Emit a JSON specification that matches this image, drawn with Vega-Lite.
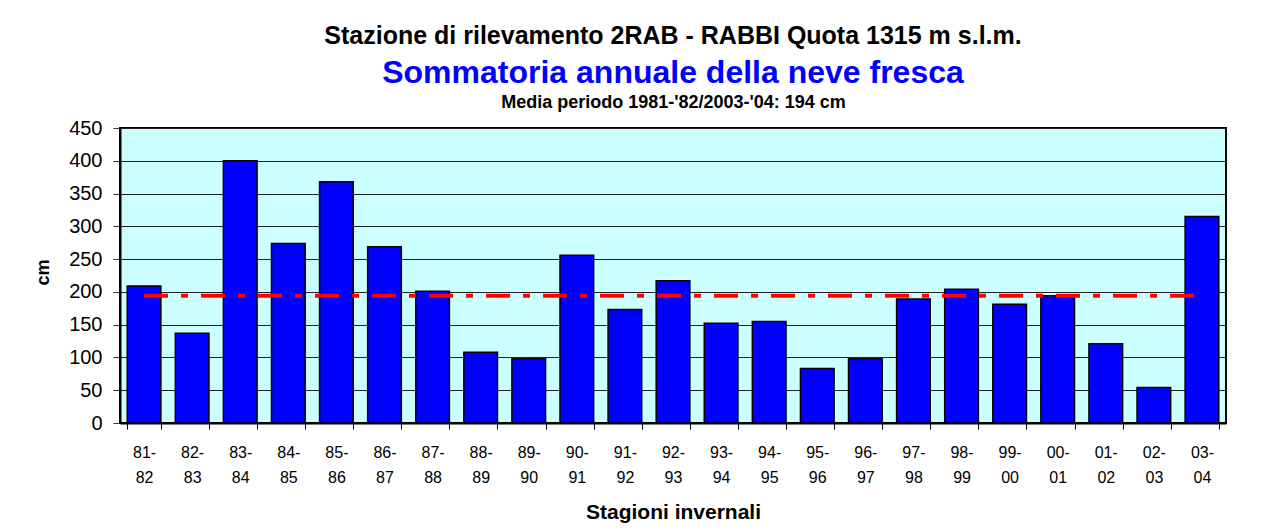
{
  "$schema": "https://vega.github.io/schema/vega-lite/v6.json",
  "width": 1106,
  "height": 295,
  "autosize": {"type": "none"},
  "padding": {"left": 120, "top": 128, "right": 41, "bottom": 107},
  "background": "white",
  "title": {
    "text": "Stazione di rilevamento 2RAB - RABBI  Quota 1315 m s.l.m.",
    "subtitle": "Sommatoria annuale della neve fresca",
    "anchor": "middle",
    "frame": "group",
    "font": "Liberation Sans",
    "fontSize": 25,
    "fontWeight": "bold",
    "color": "black",
    "subtitleFont": "Liberation Sans",
    "subtitleFontSize": 32,
    "subtitleFontWeight": "bold",
    "subtitleColor": "#0000FF",
    "subtitlePadding": 9,
    "offset": 4
  },
  "data": {
    "values": [
      {"season": "81-82", "cm": 209},
      {"season": "82-83", "cm": 137},
      {"season": "83-84", "cm": 400},
      {"season": "84-85", "cm": 274},
      {"season": "85-86", "cm": 368},
      {"season": "86-87", "cm": 269},
      {"season": "87-88", "cm": 201},
      {"season": "88-89", "cm": 108},
      {"season": "89-90", "cm": 98},
      {"season": "90-91", "cm": 256},
      {"season": "91-92", "cm": 173},
      {"season": "92-93", "cm": 217},
      {"season": "93-94", "cm": 152},
      {"season": "94-95", "cm": 155},
      {"season": "95-96", "cm": 83},
      {"season": "96-97", "cm": 98},
      {"season": "97-98", "cm": 189},
      {"season": "98-99", "cm": 204},
      {"season": "99-00", "cm": 181},
      {"season": "00-01", "cm": 194},
      {"season": "01-02", "cm": 121},
      {"season": "02-03", "cm": 54},
      {"season": "03-04", "cm": 315}
    ]
  },
  "layer": [
    {
      "mark": {"type": "bar", "color": "#0000FF", "stroke": "black", "strokeWidth": 1.5},
      "encoding": {
        "x": {
          "field": "season",
          "type": "nominal",
          "sort": null,
          "scale": {
            "domain": ["81-82","82-83","83-84","84-85","85-86","86-87","87-88","88-89","89-90","90-91","91-92","92-93","93-94","94-95","95-96","96-97","97-98","98-99","99-00","00-01","01-02","02-03","03-04"],
            "paddingInner": 0.3,
            "paddingOuter": 0.15
          },
          "axis": {
            "orient": "bottom",
            "title": "Stagioni invernali",
            "titleFont": "Liberation Sans",
            "titleFontSize": 21,
            "titleFontWeight": "bold",
            "titleColor": "black",
            "titlePadding": 16,
            "labelAngle": 0,
            "labelExpr": "[slice(datum.label,0,3), slice(datum.label,3)]",
            "labelFont": "Liberation Sans",
            "labelFontSize": 16,
            "labelColor": "black",
            "labelLineHeight": 25,
            "labelPadding": 15,
            "tickBand": "extent",
            "tickSize": 6,
            "tickColor": "black",
            "tickWidth": 1,
            "domainColor": "black",
            "domainWidth": 2,
            "grid": false
          }
        },
        "y": {
          "field": "cm",
          "type": "quantitative",
          "title": "cm",
          "scale": {"domain": [0, 450], "nice": false},
          "axis": {"values": [0, 50, 100, 150, 200, 250, 300, 350, 400, 450]}
        }
      }
    },
    {
      "data": {"values": [{"media": 194, "from": "81-82", "to": "03-04"}]},
      "mark": {"type": "rule", "color": "#FF0000", "strokeWidth": 4, "strokeDash": [24, 13, 7, 13]},
      "encoding": {
        "x": {
          "field": "from",
          "type": "nominal",
          "axis": {
            "orient": "top",
            "title": "Media periodo 1981-'82/2003-'04: 194 cm",
            "titleFont": "Liberation Sans",
            "titleFontSize": 18,
            "titleFontWeight": "bold",
            "titleColor": "black",
            "titlePadding": 17,
            "labels": false,
            "ticks": false,
            "domain": false,
            "grid": false
          }
        },
        "x2": {"field": "to"},
        "y": {
          "field": "media",
          "type": "quantitative",
          "title": "cm",
          "axis": {"values": [0, 50, 100, 150, 200, 250, 300, 350, 400, 450]}
        }
      }
    }
  ],
  "resolve": {"axis": {"x": "independent"}},
  "config": {
    "view": {"fill": "#CCFFFF", "stroke": "black", "strokeWidth": 2},
    "font": "Liberation Sans",
    "axisY": {
      "grid": true,
      "gridColor": "#222222",
      "gridWidth": 1,
      "tickSize": 7,
      "tickColor": "#333333",
      "domainColor": "black",
      "domainWidth": 2,
      "labelFont": "Liberation Sans",
      "labelFontSize": 20,
      "labelColor": "black",
      "labelPadding": 11,
      "labelOverlap": false,
      "titleFont": "Liberation Sans",
      "titleFontSize": 18,
      "titleFontWeight": "bold",
      "titleColor": "black",
      "titleX": -68,
      "titleY": 144
    }
  }
}
